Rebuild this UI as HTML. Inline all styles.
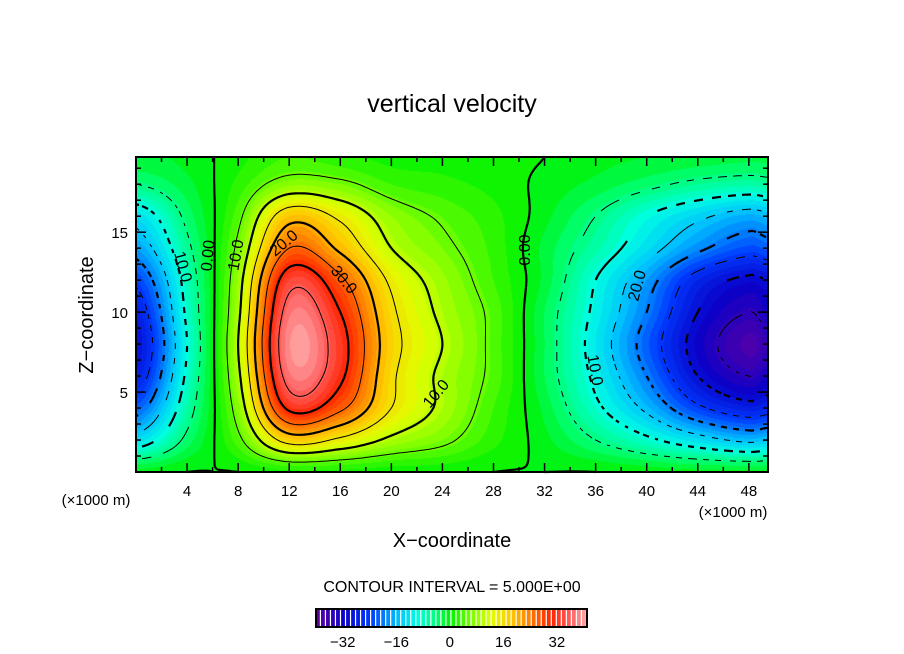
<!DOCTYPE html>
<html><head><meta charset="utf-8">
<style>
html,body{margin:0;padding:0;background:#fff;}
#wrap{position:relative;width:904px;height:654px;overflow:hidden;font-family:"Liberation Sans",sans-serif;}
canvas{position:absolute;left:0;top:0;}
svg{position:absolute;left:0;top:0;}
svg text{font-family:"Liberation Sans",sans-serif;fill:#000;}
</style></head>
<body>
<div id="wrap">
<canvas id="cv" width="904" height="654"></canvas>
<svg id="sv" width="904" height="654">
<text x="452" y="112" font-size="25" text-anchor="middle">vertical velocity</text>
<text transform="translate(93,315) rotate(-90)" font-size="20" text-anchor="middle">Z−coordinate</text>
<text x="452" y="547" font-size="20" text-anchor="middle">X−coordinate</text>
<text x="96" y="505" font-size="15" text-anchor="middle">(×1000 m)</text>
<text x="733" y="517" font-size="15" text-anchor="middle">(×1000 m)</text>
<text x="452" y="592" font-size="16" text-anchor="middle">CONTOUR INTERVAL = 5.000E+00</text>
<g id="ticks"></g>
<g id="contours"></g>
<g id="labels" font-size="16">
<text transform="translate(178,268) rotate(75)" text-anchor="middle">10.0</text>
<text transform="translate(213,256) rotate(-85)" text-anchor="middle">0.00</text>
<text transform="translate(241,256) rotate(-80)" text-anchor="middle">10.0</text>
<text transform="translate(287,247) rotate(-40)" text-anchor="middle">20.0</text>
<text transform="translate(340,283) rotate(50)" text-anchor="middle">30.0</text>
<text transform="translate(440,397) rotate(-50)" text-anchor="middle">10.0</text>
<text transform="translate(530,250) rotate(-90)" text-anchor="middle">0.00</text>
<text transform="translate(642,287) rotate(-75)" text-anchor="middle">20.0</text>
<text transform="translate(590,371) rotate(80)" text-anchor="middle">10.0</text>
</g>
<rect x="136" y="157" width="632" height="315" fill="none" stroke="#000" stroke-width="2"/>
<g id="xticklabels" font-size="15" text-anchor="middle"></g>
<g id="yticklabels" font-size="15" text-anchor="end"></g>
<g id="cbar"></g>
<g id="cbarlabels" font-size="15" text-anchor="middle"></g>
</svg>
</div>
<script>
// grid coordinates (×1000 m) and field values
const xGrid=[0,4,8,12,16,20,24,28,32,36,40,44,48,49.5];
const zGrid=[0,2,4,6,8,10,12,14,16,18,19.7];
const w_z0 =[-1,0,0,1,1,0.5,0.5,0,0,0,-0.5,-1,-1,-1];
const w_z2 =[-13,-4,4,17,14,9,6,2,-1,-5,-9,-13,-16,-15];
const w_z4 =[-22,-7,7,31,26,15,9,3,-2,-9,-16,-24,-28,-27];
const w_z6 =[-28,-9,9,37,31,16,9,4,-3,-11,-20,-30,-35,-33];
const w_z8 =[-30,-10,10,38.8,32,17,10,4,-3,-12,-22,-32,-38,-36];
const w_z10=[-28,-9,9,37,30,16,9,4,-3,-11,-20,-30,-35,-33];
const w_z12=[-24,-8,8,33,26,14,8,3,-2,-10,-18,-27,-31,-30];
const w_z14=[-18,-6,6,25,19,10,6,2.5,-2,-7,-13,-19,-23,-22];
const w_z16=[-13,-4,4,18,14,7.5,4.4,2,-1,-5,-10,-14,-17,-16];
const w_z18=[-5,-2,2,7,6,3,2,1,-0.5,-2,-4,-6,-7,-6.5];
const w_z20=[-2,-1,1,3,2,1,1,0.5,0,-1,-1.5,-2,-2.5,-2.5];
const field=[w_z0,w_z2,w_z4,w_z6,w_z8,w_z10,w_z12,w_z14,w_z16,w_z18,w_z20];
const xTickVals=[4,8,12,16,20,24,28,32,36,40,44,48];
const zTickVals=[5,10,15];
const cbarTicks=[-32,-16,0,16,32];
const levels=[-35,-30,-25,-20,-15,-10,-5,0,5,10,15,20,25,30,35,40];

const PL=136,PR=768,PT=157,PB=472,XMAX=49.5,ZMAX=19.7;
const sx=x=>PL+x/XMAX*(PR-PL);
const sz=z=>PB-z/ZMAX*(PB-PT);
const ix=px=>(px-PL)/(PR-PL)*XMAX;
const iz=py=>(PB-py)/(PB-PT)*ZMAX;

function findIdx(arr,v){let i=0;while(i<arr.length-2&&v>arr[i+1])i++;return [i,Math.max(0,Math.min(1,(v-arr[i])/(arr[i+1]-arr[i])))];}
function cr(p0,p1,p2,p3,t){return 0.5*((2*p1)+(-p0+p2)*t+(2*p0-5*p1+4*p2-p3)*t*t+(-p0+3*p1-3*p2+p3)*t*t*t);}
function rowAt(r,x){const [i,t]=findIdx(xGrid,x);const n=r.length;const g=k=>r[Math.max(0,Math.min(n-1,k))];return cr(g(i-1),g(i),g(i+1),g(i+2),t);}
function val(x,z){const [j,t]=findIdx(zGrid,z);const m=field.length;const g=k=>rowAt(field[Math.max(0,Math.min(m-1,k))],x);return cr(g(j-1),g(j),g(j+1),g(j+2),t);}

const stops=[[-40,[95,0,165]],[-32,[10,0,200]],[-24,[0,60,255]],[-16,[0,190,255]],[-10,[0,255,225]],[-4,[0,255,110]],[0,[0,242,0]],[6,[120,255,0]],[12,[225,255,0]],[18,[255,200,0]],[24,[255,120,0]],[30,[255,35,0]],[36,[255,100,100]],[41,[255,175,175]]];
function color(v){
 if(v>40)return [255,255,255];
 v=Math.floor(v/1.5)*1.5+0.75;
 if(v<=stops[0][0])return stops[0][1];
 for(let k=0;k<stops.length-1;k++){const a=stops[k],b=stops[k+1];if(v<=b[0]){const t=(v-a[0])/(b[0]-a[0]);return a[1].map((c,i)=>Math.round(c+(b[1][i]-c)*t));}}
 return stops[stops.length-1][1];
}
const cv=document.getElementById('cv');const ctx=cv.getContext('2d');
const img=ctx.createImageData(PR-PL,PB-PT);
for(let py=PT;py<PB;py++)for(let px=PL;px<PR;px++){
 const c=color(val(ix(px+0.5),iz(py+0.5)));const o=((py-PT)*(PR-PL)+(px-PL))*4;
 img.data[o]=c[0];img.data[o+1]=c[1];img.data[o+2]=c[2];img.data[o+3]=255;}
ctx.putImageData(img,PL,PT);

// contours (marching squares)
const NS='http://www.w3.org/2000/svg';
const STEP=3;const cols=Math.ceil((PR-PL)/STEP)+1,rows=Math.ceil((PB-PT)/STEP)+1;
const G=[];for(let r=0;r<rows;r++){G.push([]);for(let c=0;c<cols;c++){G[r].push(val(ix(Math.min(PR,PL+c*STEP)),iz(Math.min(PB,PT+r*STEP))));}}
const cg=document.getElementById('contours');
levels.forEach(L=>{
 let d='';
 for(let r=0;r<rows-1;r++)for(let c=0;c<cols-1;c++){
  const x0=PL+c*STEP,y0=PT+r*STEP,x1=Math.min(PR,x0+STEP),y1=Math.min(PB,y0+STEP);
  const v=[G[r][c],G[r][c+1],G[r+1][c+1],G[r+1][c]];
  const P=[[x0,y0],[x1,y0],[x1,y1],[x0,y1]];
  const pts=[];
  for(let e=0;e<4;e++){const a=v[e],b=v[(e+1)%4];if((a<L)!==(b<L)){const t=(L-a)/(b-a);const A=P[e],B=P[(e+1)%4];pts.push([A[0]+(B[0]-A[0])*t,A[1]+(B[1]-A[1])*t]);}}
  for(let k=0;k+1<pts.length;k+=2){
   const mx=(pts[k][0]+pts[k+1][0])/2,my=(pts[k][1]+pts[k+1][1])/2;
   if(L<0&&Math.floor((mx+my)/7)%2===1)continue;
   d+='M'+pts[k][0].toFixed(1)+' '+pts[k][1].toFixed(1)+'L'+pts[k+1][0].toFixed(1)+' '+pts[k+1][1].toFixed(1);
  }
 }
 const p=document.createElementNS(NS,'path');
 p.setAttribute('d',d);p.setAttribute('fill','none');p.setAttribute('stroke','#000');
 p.setAttribute('stroke-width',(L%10===0)?2.2:1);
 
 
 cg.appendChild(p);
});

// ticks
const tg=document.getElementById('ticks');
function line(x1,y1,x2,y2,w,name){const l=document.createElementNS(NS,'line');l.setAttribute('x1',x1);l.setAttribute('y1',y1);l.setAttribute('x2',x2);l.setAttribute('y2',y2);l.setAttribute('stroke','#000');l.setAttribute('stroke-width',w);
 
 
 tg.appendChild(l);}
for(let x=0;x<=XMAX;x+=2){const X=sx(x);const len=(x%4===0)?9:5;line(X,PB,X,PB-len,1.5,'x-tick');line(X,PT,X,PT+len,1.5,'x-tick-top');}
for(let z=1;z<=19;z++){const Y=sz(z);const len=(z%5===0)?10:5;line(PL,Y,PL+len,Y,1.5,'z-tick');line(PR,Y,PR-len,Y,1.5,'z-tick-right');}
const xl=document.getElementById('xticklabels');
xTickVals.forEach(v=>{const t=document.createElementNS(NS,'text');t.setAttribute('x',sx(v));t.setAttribute('y',496);t.textContent=v;
 
 
 xl.appendChild(t);});
const yl=document.getElementById('yticklabels');
zTickVals.forEach(v=>{const t=document.createElementNS(NS,'text');t.setAttribute('x',128);t.setAttribute('y',sz(v)+6);t.textContent=v;
 
 
 yl.appendChild(t);});

// colorbar
const CL=316,CR=587,CMIN=-40,CMAX=41;const cx=v=>CL+(v-CMIN)/(CMAX-CMIN)*(CR-CL);
const cb=document.getElementById('cbar');
for(let v=CMIN;v<CMAX;v+=1.5){const c=color(v+0.1);const r=document.createElementNS(NS,'rect');
 r.setAttribute('x',cx(v));r.setAttribute('y',609);r.setAttribute('width',Math.max(1,cx(v+1.5)-cx(v)-1.2));r.setAttribute('height',18);
 r.setAttribute('fill','rgb('+c.join(',')+')');
 
 
 cb.appendChild(r);}
const fr=document.createElementNS(NS,'rect');fr.setAttribute('x',CL);fr.setAttribute('y',609);fr.setAttribute('width',CR-CL);fr.setAttribute('height',18);fr.setAttribute('fill','none');fr.setAttribute('stroke','#000');fr.setAttribute('stroke-width',2);


cb.appendChild(fr);
const cbl=document.getElementById('cbarlabels');
cbarTicks.forEach(v=>{const t=document.createElementNS(NS,'text');t.setAttribute('x',cx(v));t.setAttribute('y',647);t.textContent=(v<0?'−':'')+Math.abs(v);
 
 
 cbl.appendChild(t);});
</script>
</body></html>
